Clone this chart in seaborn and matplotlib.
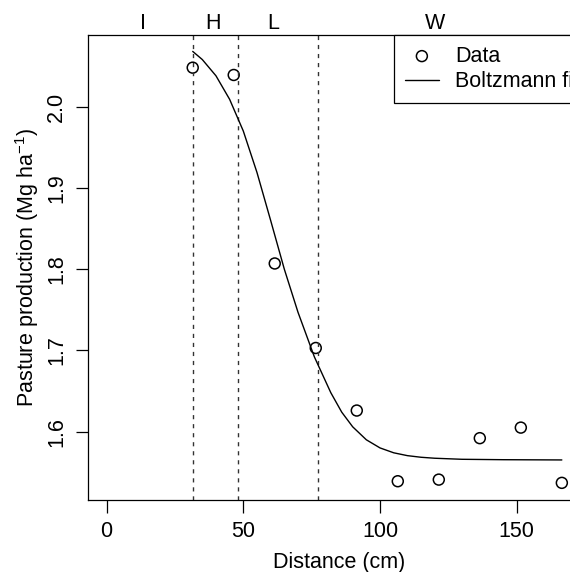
import matplotlib
matplotlib.use('Agg')
import matplotlib.pyplot as plt
import matplotlib.transforms as mtransforms
import pandas as pd
import seaborn as sns

# observed pasture production along the distance transect
distance = [31.5, 46.5, 61.5, 76.5, 91.5, 106.5, 121.5, 136.5, 151.5, 166.5]
production = [2.048, 2.039, 1.807, 1.703, 1.626, 1.539, 1.541, 1.592, 1.605, 1.537]

# Boltzmann fit curve
fit_x = [31.5, 35, 40, 45, 50, 55, 60, 65, 70, 76, 82, 86, 90, 95, 100,
         105, 110, 115, 120, 130, 145, 166.5]
fit_y = [2.068, 2.058, 2.038, 2.009, 1.970, 1.919, 1.860, 1.800, 1.747, 1.692,
         1.648, 1.624, 1.606, 1.590, 1.580, 1.574, 1.5705, 1.5685, 1.5673,
         1.566, 1.5655, 1.5652]

# zone boundaries and zone labels
bounds = [31.7, 48.2, 77.3]
zone_names = ['I', 'H', 'L', 'W']
zone_pos = [13.4, 38.8, 61.0, 120.1]

df = pd.DataFrame({'distance': distance, 'production': production})
df_fit = pd.DataFrame({'x': fit_x, 'y': fit_y})

sns.set_style('ticks', rc={'text.color': 'black', 'axes.labelcolor': 'black',
                           'xtick.color': 'black', 'ytick.color': 'black',
                           'axes.edgecolor': 'black'})
plt.rcParams['font.family'] = ['Liberation Sans', 'DejaVu Sans']
plt.rcParams['mathtext.default'] = 'regular'

fs = 15.5
fig = plt.figure(figsize=(5.7, 5.72), dpi=100)
ax = fig.add_axes([88 / 570, 72 / 572, 502 / 570, 465 / 572])

for b in bounds:
    ax.axvline(b, color='#333333', lw=1.0, ls=(0, (3, 3.5)))

sns.lineplot(x='x', y='y', data=df_fit, ax=ax, color='black', lw=1.0,
             sort=False, label='Boltzmann fit', legend=False)
sns.scatterplot(x='distance', y='production', data=df, ax=ax, marker='o',
                s=62, facecolor='none', edgecolor='black', linewidth=1.1,
                label='Data', legend=False)

ax.set_xlim(-6.8, 176.8)
ax.set_ylim(1.5159, 2.0882)
ax.set_xticks([0, 50, 100, 150])
ax.set_yticks([1.6, 1.7, 1.8, 1.9, 2.0])
ax.set_yticklabels(['1.6', '1.7', '1.8', '1.9', '2.0'], rotation=90, va='center')
ax.tick_params(axis='both', length=9, width=0.9, color='black',
               labelsize=fs, pad=6)

for s in ax.spines.values():
    s.set_visible(True)
    s.set_linewidth(0.9)
    s.set_color('black')

ax.set_xlabel('Distance (cm)', fontsize=fs, labelpad=7)
ax.set_ylabel('Pasture production (Mg ha$^{-1}$)', fontsize=fs, labelpad=4)

# zone letters above the plot
trans = mtransforms.blended_transform_factory(ax.transData, ax.transAxes)
for name, pos in zip(zone_names, zone_pos):
    ax.text(pos, 1.024, name, transform=trans, ha='center', va='center',
            fontsize=fs)

# legend in the top right corner, R style
handles, labels = ax.get_legend_handles_labels()
order = [labels.index('Data'), labels.index('Boltzmann fit')]
leg = ax.legend([handles[i] for i in order], [labels[i] for i in order],
                loc='upper right', borderaxespad=0, fontsize=fs,
                frameon=True, fancybox=False, framealpha=1,
                edgecolor='black', handlelength=1.6, handletextpad=0.75,
                borderpad=0.5, labelspacing=0.2)
leg.get_frame().set_linewidth(0.9)

plt.savefig('out.png', dpi=100)
